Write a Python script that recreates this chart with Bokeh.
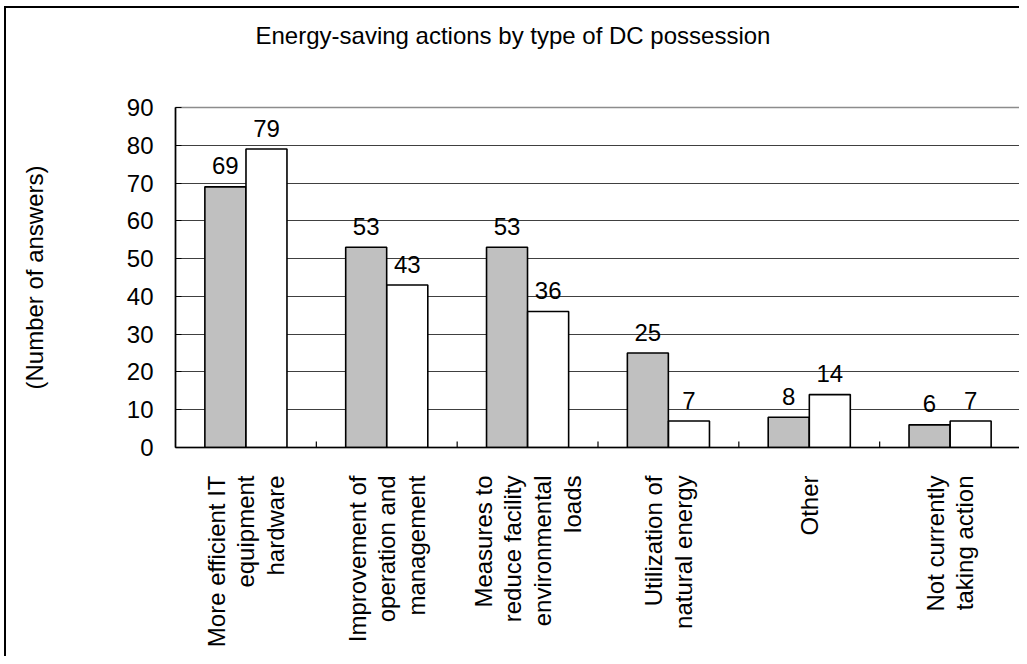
from math import pi
from bokeh.plotting import figure
from bokeh.models import ColumnDataSource, FactorRange, Range1d, FixedTicker, Title
from bokeh.transform import dodge
from bokeh.embed import file_html
from bokeh.resources import INLINE
from bokeh.core.properties import value

title_text = "Energy-saving actions by type of DC possession"
y_axis_title = "(Number of answers)"
categories = [
    "More efficient IT\nequipment\nhardware",
    "Improvement of\noperation and\nmanagement",
    "Measures to\nreduce facility\nenvironmental\nloads",
    "Utilization of\nnatural energy",
    "Other",
    "Not currently\ntaking action",
]
series_grey = [69, 53, 53, 25, 8, 6]
series_white = [79, 43, 36, 7, 14, 7]
y_ticks = [0, 10, 20, 30, 40, 50, 60, 70, 80, 90]

FONT = "Liberation Sans"
FS = "24px"

src = ColumnDataSource(dict(
    x=categories,
    a=series_grey,
    b=series_white,
    a_lbl=[str(v) for v in series_grey],
    b_lbl=[str(v) for v in series_white],
))

p = figure(
    x_range=FactorRange(*categories, range_padding=0, factor_padding=0),
    y_range=Range1d(y_ticks[0], y_ticks[-1]),
    width=1015, height=650,
    output_backend="svg", toolbar_location=None,
    min_border_left=169, min_border_right=1,
    min_border_top=99, min_border_bottom=211,
)
p.styles = {
    "margin-left": "4px", "margin-top": "6px",
    "border-left": "2px solid #000", "border-top": "2px solid #000",
}

# title (outermost) and a blank spacer between it and the plot frame
p.title.text = title_text
p.title.align = "left"
p.title.vertical_align = "top"
p.title.offset = 80
p.title.standoff = 0
p.title.text_font = FONT
p.title.text_font_size = FS
p.title.text_font_style = "normal"
p.title.text_color = "black"
p.add_layout(Title(text=" ", text_font=FONT, text_font_size=FS, standoff=28), "above")

bw = 0.291
off = 0.146
p.vbar(x=dodge("x", -off, range=p.x_range), top="a", width=bw, source=src,
       fill_color="#C0C0C0", line_color="black", line_width=1.6)
p.vbar(x=dodge("x", off, range=p.x_range), top="b", width=bw, source=src,
       fill_color="white", line_color="black", line_width=1.6)

p.text(x=dodge("x", -off, range=p.x_range), y="a", text="a_lbl", source=src,
       text_align="center", text_baseline="alphabetic", y_offset=-21,
       text_font=value(FONT), text_font_size=FS, text_color="black")
p.text(x=dodge("x", off, range=p.x_range), y="b", text="b_lbl", source=src,
       text_align="center", text_baseline="alphabetic", y_offset=-21,
       text_font=value(FONT), text_font_size=FS, text_color="black")

# category boundary tick marks (inward)
bounds = list(range(1, len(categories)))
p.scatter(x=bounds, y=[y_ticks[0]] * len(bounds), marker="dash", angle=pi / 2,
          size=12, line_color="black", line_width=1.2)

# grid and outline
p.xgrid.grid_line_color = None
p.ygrid.ticker = FixedTicker(ticks=y_ticks[1:-1])
p.ygrid.grid_line_color = "#404040"
p.ygrid.grid_line_width = 1
p.outline_line_color = "#8c8c8c"
p.outline_line_width = 1.5

# y axis
p.yaxis.ticker = FixedTicker(ticks=y_ticks)
p.yaxis.axis_label = y_axis_title
p.yaxis.axis_label_text_font = FONT
p.yaxis.axis_label_text_font_size = FS
p.yaxis.axis_label_text_font_style = "normal"
p.yaxis.axis_label_text_color = "black"
p.yaxis.axis_label_standoff = 76
p.yaxis.major_label_text_font = FONT
p.yaxis.major_label_text_font_size = FS
p.yaxis.major_label_text_color = "black"
p.yaxis.major_label_standoff = 22
p.yaxis.major_tick_out = 0
p.yaxis.major_tick_in = 6
p.yaxis.major_tick_line_color = "black"
p.yaxis.minor_tick_line_color = None
p.yaxis.axis_line_color = "black"
p.yaxis.axis_line_width = 1.6

# x axis
p.xaxis.major_label_orientation = pi / 2
p.xaxis.major_label_text_align = "right"
p.xaxis.major_label_text_font = FONT
p.xaxis.major_label_text_font_size = FS
p.xaxis.major_label_text_color = "black"
p.xaxis.major_label_text_line_height = 1.1
p.xaxis.major_label_standoff = 28
p.xaxis.major_tick_in = 0
p.xaxis.major_tick_out = 0
p.xaxis.axis_line_color = "black"
p.xaxis.axis_line_width = 1.6

open("out.html", "w").write(file_html(p, INLINE))
